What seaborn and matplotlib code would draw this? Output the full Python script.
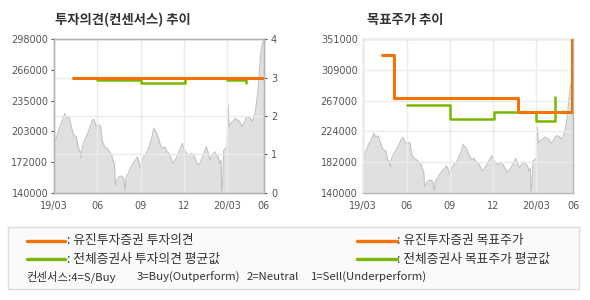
import matplotlib
matplotlib.use('Agg')
import matplotlib.pyplot as plt
import seaborn as sns
from matplotlib.lines import Line2D
from matplotlib.patches import Rectangle

sns.set_theme(style='white')
plt.rcParams['font.family'] = ['Noto Sans CJK KR', 'DejaVu Sans']

# ---------------- data ----------------
month_ticks = [0, 3, 6, 9, 12, 14.55]
month_labels = ['19/03', '06', '09', '12', '20/03', '06']

price_month = [0.00, 0.16, 0.35, 0.51, 0.74, 0.85, 1.04, 1.20, 1.36, 1.55, 1.69, 1.78, 1.87, 1.96,
               2.12, 2.29, 2.47, 2.66, 2.77, 2.93, 3.09, 3.23, 3.35, 3.51, 3.67, 3.86, 4.00, 4.11,
               4.18, 4.25, 4.37, 4.50, 4.67, 4.83, 4.92, 5.01, 5.13, 5.29, 5.47, 5.66, 5.77, 5.89,
               5.98, 6.12, 6.28, 6.44, 6.63, 6.79, 6.91, 7.05, 7.21, 7.37, 7.55, 7.67, 7.83, 7.97,
               8.11, 8.25, 8.41, 8.55, 8.71, 8.89, 9.01, 9.17, 9.36, 9.52, 9.68, 9.82, 9.98, 10.09,
               10.25, 10.39, 10.56, 10.69, 10.83, 10.97, 11.13, 11.25, 11.37, 11.48, 11.57, 11.62,
               11.69, 11.76, 11.90, 11.99, 12.06, 12.13, 12.24, 12.40, 12.57, 12.71, 12.87, 13.01,
               13.17, 13.28, 13.44, 13.61, 13.75, 13.89, 13.98, 14.07, 14.16, 14.25, 14.35, 14.44,
               14.51]
price = [192500, 196000, 206000, 211500, 221700, 216600, 218000, 208000, 199400, 197700, 185700,
         184000, 175400, 187400, 194300, 199400, 206300, 214900, 215600, 208000, 209700, 208700,
         192500, 187400, 185700, 182200, 178800, 172000, 170200, 147900, 153000, 156500, 157200,
         154800, 142700, 156500, 159900, 165100, 170200, 173700, 177100, 172000, 165100, 173700,
         178800, 182200, 189100, 197700, 206300, 202900, 197700, 189100, 185700, 187400, 182200,
         180500, 175400, 170200, 173700, 178800, 184000, 190900, 185700, 180500, 178800, 180500,
         178800, 173700, 168500, 170200, 175400, 180500, 187400, 180500, 173700, 178800, 182200,
         178800, 177100, 170200, 173700, 141000, 151300, 184000, 185700, 187400, 230300, 208000,
         211500, 213200, 216600, 214900, 213200, 208000, 211500, 216600, 218300, 216600, 213200,
         220000, 226900, 237200, 249200, 269800, 287000, 293900, 297300]

op_yj_month = [1.32, 14.48]
op_yj = [3.0, 3.0]
op_avg1_month = [3.0, 6.0, 9.05]
op_avg1 = [2.94, 2.87, 2.94]
op_avg2_month = [12.0, 13.3]
op_avg2 = [2.94, 2.85]

tp_yj_month = [1.32, 2.13, 10.72, 14.44]
tp_yj = [330000, 270000, 251000, 360000]
tp_avg_month = [3.0, 6.0, 9.03, 12.0, 13.3]
tp_avg = [260000, 242000, 251000, 239000, 271000]

left_ticks = [140000, 171600, 203200, 234800, 266400, 298000]
left_labels = ['140000', '172000', '203000', '235000', '266000', '298000']
op_ticks = [0, 1, 2, 3, 4]
tp_ticks = [140000, 182200, 224400, 266600, 308800, 351000]
tp_labels = ['140000', '182000', '224000', '267000', '309000', '351000']

# ---------------- style ----------------
ORANGE = '#f57300'
GREEN = '#7ab800'
AREA = '#e0e0e0'
AREA_LINE = '#c2c2c2'
SPINE = '#b4b4b4'
GRID = '#ebebeb'
TXT = '#555555'

W, H = 590, 300
fig = plt.figure(figsize=(W / 100, H / 100), dpi=100)
fig.patch.set_facecolor('white')


def fx(px):
    return px / W


def fy(py):
    return 1 - py / H


def style_axes(ax):
    for s in ax.spines.values():
        s.set_color(SPINE)
        s.set_linewidth(1)
    ax.tick_params(colors=TXT, labelsize=7, length=2, width=0.8, pad=2)
    for lab in ax.get_xticklabels() + ax.get_yticklabels():
        lab.set_family('DejaVu Sans')
    ax.set_xlabel('')
    ax.set_ylabel('')


ax_w = fx(264) - fx(54)
ax_h = (192.7 - 39.3) / H
ax1 = fig.add_axes([fx(54), fy(192.7), ax_w, ax_h])
ax3 = fig.add_axes([fx(363.3), fy(192.7), ax_w, ax_h])

for ax, yl, yt, ylab in [(ax1, (140000, 298000), left_ticks, left_labels),
                          (ax3, (140000, 351000), tp_ticks, tp_labels)]:
    ax.fill_between(price_month, price, 140000, color=AREA, lw=0, zorder=1)
    sns.lineplot(x=price_month, y=price, ax=ax, color=AREA_LINE, lw=0.8, zorder=2)
    ax.set_xlim(0, 14.55)
    ax.set_ylim(*yl)
    ax.set_yticks(yt)
    ax.set_yticklabels(ylab)
    ax.set_xticks(month_ticks)
    ax.set_xticklabels(month_labels)
    ax.set_axisbelow(False)

ax1.grid(axis='x', color=GRID, lw=1)
ax1.grid(axis='y', visible=False)
ax3.grid(axis='both', color=GRID, lw=1)

ax2 = ax1.twinx()
ax2.set_ylim(0, 4)
ax2.set_yticks(op_ticks)
ax2.set_yticklabels([str(t) for t in op_ticks])
ax2.grid(axis='y', color=GRID, lw=1)
ax2.set_axisbelow(True)
sns.lineplot(x=op_yj_month, y=op_yj, ax=ax2, color=ORANGE, lw=2.2, drawstyle='steps-post', zorder=4)
sns.lineplot(x=op_avg1_month, y=op_avg1, ax=ax2, color=GREEN, lw=1.8, drawstyle='steps-post', zorder=3)
sns.lineplot(x=op_avg2_month, y=op_avg2, ax=ax2, color=GREEN, lw=1.8, drawstyle='steps-post', zorder=3)

sns.lineplot(x=tp_avg_month, y=tp_avg, ax=ax3, color=GREEN, lw=1.8, drawstyle='steps-post', zorder=3)
sns.lineplot(x=tp_yj_month, y=tp_yj, ax=ax3, color=ORANGE, lw=2.2, drawstyle='steps-post', zorder=4)

for ax in (ax1, ax2, ax3):
    style_axes(ax)
ax1.tick_params(axis='x', pad=4)
ax3.tick_params(axis='x', pad=4)
ax2.tick_params(axis='y', pad=3)

# titles
fig.text(fx(55), fy(20), '투자의견(컨센서스) 추이', fontsize=9.6, fontweight='bold',
         color='#333333', va='center', ha='left')
fig.text(fx(367), fy(20), '목표주가 추이', fontsize=9.6, fontweight='bold',
         color='#333333', va='center', ha='left')

# legend box
fig.add_artist(Rectangle((fx(8), fy(289)), fx(579) - fx(8), fy(227) - fy(289),
                         transform=fig.transFigure, facecolor='#fafafa',
                         edgecolor='#dcdcdc', lw=1))

leg_items = [
    (27, 65, 240.7, ORANGE, ': 유진투자증권 투자의견', 67),
    (27, 65, 259.0, GREEN, ': 전체증권사 투자의견 평균값', 67),
    (357, 397, 240.7, ORANGE, ': 유진투자증권 목표주가', 397),
    (357, 397, 259.0, GREEN, ': 전체증권사 목표주가 평균값', 397),
]
for x0, x1, yy, col, label, tx in leg_items:
    fig.add_artist(Line2D([fx(x0), fx(x1)], [fy(yy), fy(yy)], color=col, lw=2.4,
                          transform=fig.transFigure))
    fig.text(fx(tx), fy(yy), label, fontsize=9.2, color='#333333', va='center', ha='left')

cons_parts = [(26, '컨센서스:4=S/Buy'), (137, '3=Buy(Outperform)'),
              (247, '2=Neutral'), (310.5, '1=Sell(Underperform)')]
for x0, t in cons_parts:
    fig.text(fx(x0), fy(277), t, fontsize=8.2, color='#333333', va='center', ha='left')

fig.savefig('out.png', dpi=100)
